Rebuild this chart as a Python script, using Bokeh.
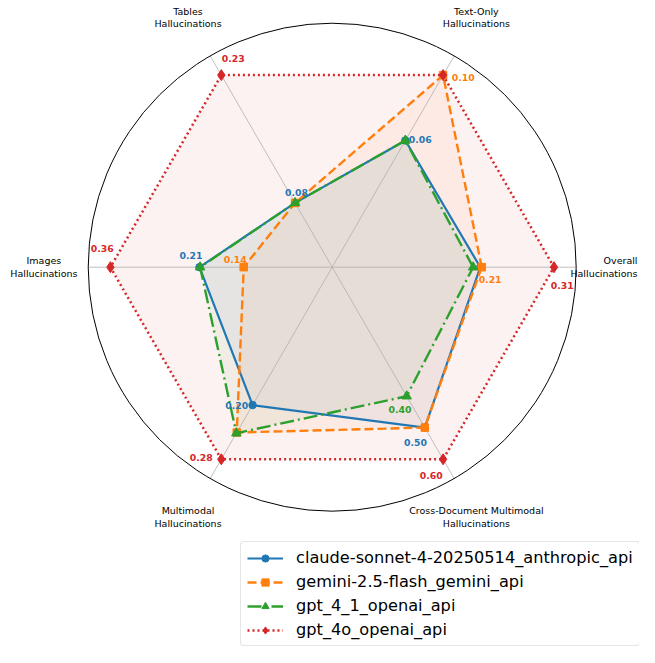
import numpy as np
from bokeh.plotting import figure
from bokeh.models import Range1d, Legend, LegendItem
from bokeh.embed import file_html
from bokeh.resources import INLINE
from bokeh.core.properties import value

# ---------------- data ----------------
categories = ["Overall\nHallucinations", "Text-Only\nHallucinations", "Tables\nHallucinations",
              "Images\nHallucinations", "Multimodal\nHallucinations",
              "Cross-Document Multimodal\nHallucinations"]
models = ["claude-sonnet-4-20250514_anthropic_api", "gemini-2.5-flash_gemini_api",
          "gpt_4_1_openai_api", "gpt_4o_openai_api"]
claude_vals = [0.207, 0.064, 0.077, 0.213, 0.201, 0.501]
gemini_vals = [0.209, 0.097, 0.077, 0.142, 0.241, 0.501]
gpt41_vals = [0.197, 0.064, 0.077, 0.212, 0.242, 0.403]
gpt4o_vals = [0.310, 0.097, 0.230, 0.356, 0.280, 0.600]
# which value labels are visible in the chart
claude_show = [False, True, True, True, True, True]
gemini_show = [True, True, False, True, False, False]
gpt41_show = [False, False, False, False, False, True]
gpt4o_show = [True, False, True, True, True, True]

series_vals = [claude_vals, gemini_vals, gpt41_vals, gpt4o_vals]
series_show = [claude_show, gemini_show, gpt41_show, gpt4o_show]

# ---------------- styles ----------------
colors = ["#1f77b4", "#ff7f0e", "#2ca02c", "#d62728"]
dashes = ["solid", "9 4", "14 4 2 4", "2 3"]
markers = ["circle", "square", "triangle", "diamond"]
msizes = [7.5, 7.5, 9.5, 11]
lwidths = [2.2, 2.4, 2.4, 2.5]

W, H = 639, 647
S = 221.8              # pixels per normalised unit
CX, CY = 331.7, 266.7  # canvas position of the centre

p = figure(width=W, height=H, output_backend="svg", toolbar_location=None,
           x_axis_type=None, y_axis_type=None, min_border=0,
           x_range=Range1d(-CX / S, (W - CX) / S),
           y_range=Range1d(-(H - CY) / S, CY / S))
p.outline_line_color = None
p.background_fill_color = "white"

n = len(categories)
theta = np.arange(n) * 2 * np.pi / n
maxes = np.max(np.array(series_vals), axis=0)

# fills
norm = []
for vals, col in zip(series_vals, colors):
    r = np.array(vals) / maxes
    norm.append(r)
    p.patch(list(r * np.cos(theta)), list(r * np.sin(theta)),
            fill_color=col, fill_alpha=0.06, line_color=None)

# spokes
R_OUT = 1.1
p.segment(x0=np.zeros(n), y0=np.zeros(n), x1=R_OUT * np.cos(theta), y1=R_OUT * np.sin(theta),
          line_color="#b0b0b0", line_width=0.8)

# lines + markers
items = []
for i, r in enumerate(norm):
    xs = list(r * np.cos(theta)) + [r[0]]
    ys = list(r * np.sin(theta)) + [0.0]
    lr = p.line(xs, ys, line_color=colors[i], line_width=lwidths[i], line_dash=dashes[i])
    sr = p.scatter(r * np.cos(theta), r * np.sin(theta), marker=markers[i], size=msizes[i],
                   fill_color=colors[i], line_color=colors[i])
    items.append(LegendItem(label=models[i], renderers=[lr, sr]))

# outer circle
p.circle(x=[0], y=[0], radius=R_OUT, fill_color=None, line_color="black", line_width=1)

# value labels
for i, r in enumerate(norm):
    show = np.array(series_show[i])
    rr = r[show] + 0.04
    tt = theta[show] - 0.08
    txt = [f"{v:.2f}" for v, s in zip(series_vals[i], series_show[i]) if s]
    p.text(rr * np.cos(tt), rr * np.sin(tt), text=txt, text_align="center",
           text_baseline="middle", text_font=value("DejaVu Sans"), text_font_style="bold",
           text_font_size="9.3px", text_color=colors[i])

# category labels (the one on the right edge is kept inside the canvas)
RL = 1.3
lx = RL * np.cos(theta)
ly = RL * np.sin(theta)
right_edge = (W - 2 - CX) / S
inner = [k for k in range(n) if np.cos(theta[k]) < 0.99]
edge = [k for k in range(n) if np.cos(theta[k]) >= 0.99]
p.text([lx[k] for k in inner], [ly[k] for k in inner], text=[categories[k] for k in inner],
       text_align="center", text_baseline="middle", text_font=value("DejaVu Sans"),
       text_font_size="9.5px", text_color="black", text_line_height=1.15)
p.text([right_edge for k in edge], [ly[k] for k in edge], text=[categories[k] for k in edge],
       text_align="right", text_baseline="middle", text_font=value("DejaVu Sans"),
       text_font_size="9.5px", text_color="black", text_line_height=1.15)

legend = Legend(items=items, location=(240, 1), padding=6, spacing=5,
                glyph_width=36, glyph_height=18, label_height=18, label_standoff=13,
                label_text_font="DejaVu Sans", label_text_font_size="16.2px",
                label_text_color="black", border_line_color="#cccccc", border_line_width=1,
                background_fill_color="white", background_fill_alpha=0.8, margin=0,
                border_radius=4)
p.add_layout(legend)

open("out.html", "w").write(file_html(p, INLINE))
